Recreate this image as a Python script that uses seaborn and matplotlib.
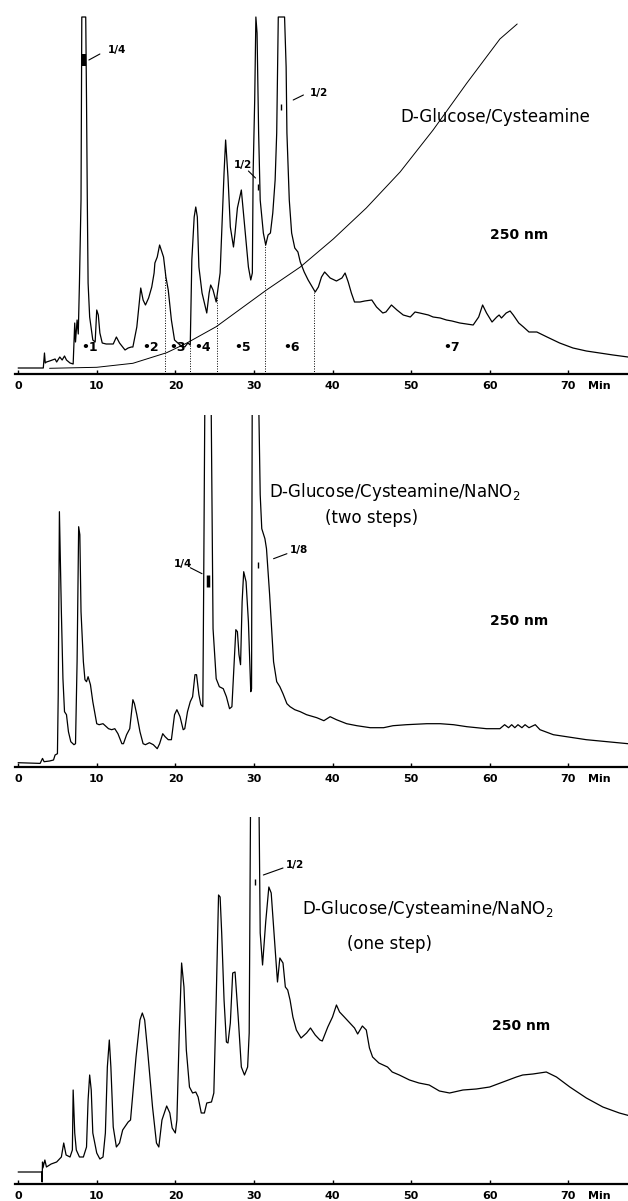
import numpy as np
import matplotlib
matplotlib.use("Agg")
import matplotlib.pyplot as plt
import seaborn as sns

sns.set_style("white")
plt.rcParams['font.family'] = ['DejaVu Sans']
plt.rcParams['text.color'] = 'black'
plt.rcParams['xtick.color'] = 'black'
plt.rcParams['xtick.labelcolor'] = 'black'

# ---------------- data (time in min, detector signal in arbitrary units) ----------------
# Panel 1: D-Glucose/Cysteamine
t1 = [0, 3.2, 3.35, 3.45, 3.6, 4.0, 4.7, 4.9, 5.3, 5.6, 5.9, 6.15, 6.6, 7.0, 7.1, 7.2, 7.3, 7.5, 7.65,
      7.8, 8.0, 8.1, 8.6, 8.7, 8.8, 8.9, 9.1, 9.5, 9.8, 10.0, 10.2, 10.4, 10.7, 11.2, 12.1, 12.5, 12.9,
      13.6, 14.0, 14.4, 14.6, 15.1, 15.6, 15.9, 16.2, 16.6, 17.0, 17.3, 17.4, 17.7, 18.0, 18.5, 18.8,
      19.1, 19.5, 19.9, 20.6, 21.2, 21.6, 21.9, 22.1, 22.4, 22.6, 22.8, 23.0, 23.4, 24.0, 24.3, 24.5,
      24.8, 25.2, 25.7, 25.9, 26.2, 26.4, 26.7, 27.0, 27.4, 27.6, 27.9, 28.2, 28.4, 28.6, 29.0, 29.3,
      29.6, 29.8, 29.9, 30.1, 30.25, 30.4, 30.6, 30.8, 31.2, 31.5, 31.8, 32.1, 32.4, 32.7, 32.9, 33.1,
      33.9, 34.1, 34.2, 34.5, 34.8, 35.2, 35.6, 35.9, 36.4, 36.9, 37.5, 37.8, 38.2, 38.6, 39.0, 39.7,
      40.5, 41.2, 41.6, 42.0, 42.4, 42.8, 43.5, 44.1, 45.0, 45.6, 46.4, 46.8, 47.5, 48.2, 49.0, 49.9,
      50.5, 51.1, 52.2, 52.8, 53.7, 54.5, 55.2, 56.2, 57.1, 57.9, 58.6, 59.1, 59.6, 60.3, 60.9, 61.2,
      61.5, 62.1, 62.6, 63.0, 63.7, 64.3, 65.0, 66.0, 67.3, 68.9, 70.6, 72.3, 74.0, 75.7, 77.6]
s1 = [6, 6, 21, 11, 12, 13, 15, 12, 17, 14, 18, 14, 11, 10, 30, 51, 32, 54, 40,
      91, 174, 357, 357, 274, 174, 91, 57, 34, 32, 64, 59, 41, 31, 30, 30, 37, 31,
      24, 26, 27, 27, 47, 86, 74, 69, 76, 87, 101, 111, 117, 129, 117, 97,
      84, 54, 34, 29, 27, 31, 29, 114, 157, 167, 157, 107, 81, 61, 81, 89,
      84, 72, 101, 141, 201, 234, 197, 147, 127, 141, 166, 177, 184, 167, 134, 107,
      94, 101, 201, 274, 357, 341, 241, 174, 141, 129, 139, 141, 161, 194, 241, 357,
      357, 307, 241, 174, 141, 126, 122, 112, 102, 94, 86, 82, 87, 97, 102, 96,
      93, 96, 101, 92, 81, 72, 72, 73, 74, 67, 61, 62, 69, 64, 59, 57,
      62, 61, 59, 57, 56, 54, 53, 51, 50, 49, 57, 69, 61, 52, 57, 59,
      56, 61, 63, 59, 51, 47, 42, 42, 37, 31, 26, 23, 21, 19, 17]

# Panel 1: elution gradient curve
grad_t = [4.0, 10.0, 14.6, 18.9, 21.4, 25.2, 31.6, 35.9, 40.1, 44.3, 48.6, 52.8, 57.1, 61.3, 63.5]
grad_s = [5.7, 6.7, 10.7, 21.3, 30.7, 47.3, 84, 107, 135, 166, 202, 244, 291, 335, 350]

# Panel 1: fraction cut positions and fraction labels
cuts = [18.7, 21.9, 25.3, 31.4, 37.7]
frac_pos = [9.1, 16.9, 20.3, 23.5, 28.6, 34.8, 55.1]
frac_lab = ['•1', '•2', '•3', '•4', '•5', '•6', '•7']

# Panel 2: D-Glucose/Cysteamine/NaNO2 (two steps)
t2 = [0, 2.8, 3.1, 3.3, 4.0, 4.5, 4.7, 5.0, 5.1, 5.25, 5.5, 5.7, 5.9, 6.15, 6.4, 6.7, 7.1, 7.3,
      7.5, 7.7, 7.85, 8.0, 8.3, 8.5, 8.7, 8.9, 9.2, 9.5, 10.0, 10.3, 10.8, 11.5, 11.9, 12.3, 12.7,
      13.2, 13.4, 13.8, 14.2, 14.6, 14.8, 15.1, 15.5, 15.9, 16.2, 16.7, 17.2, 17.7, 18.0, 18.4,
      18.7, 19.1, 19.5, 19.9, 20.2, 20.6, 21.0, 21.2, 21.55, 21.9, 22.2, 22.5, 22.7, 23.0, 23.25,
      23.5, 23.6, 23.8, 24.5, 24.8, 25.2, 25.6, 26.1, 26.5, 26.9, 27.2, 27.5, 27.7, 27.9, 28.1,
      28.3, 28.5, 28.7, 29.0, 29.3, 29.6, 29.7, 29.8, 30.5, 30.8, 31.0, 31.4, 31.6, 32.0, 32.5,
      32.9, 33.3, 33.7, 34.2, 34.6, 35.2, 35.9, 36.7, 38.0, 38.9, 39.7, 40.5, 41.8, 43.1, 44.8,
      46.5, 47.7, 49.4, 52.0, 53.7, 55.4, 57.1, 59.6, 61.3, 61.9, 62.4, 62.8, 63.2, 63.6, 64.1,
      64.5, 65.0, 65.8, 66.4, 68.1, 69.8, 72.3, 74.9, 77.6]
s2 = [4, 3.3, 8.3, 5, 5.7, 6.7, 11.7, 13, 72, 255, 155, 88, 55, 52, 35, 25, 22, 23,
      105, 240, 232, 155, 105, 87, 85, 90, 82, 65, 43, 42, 43, 38, 37, 38, 33,
      23, 23, 32, 38, 67, 63, 52, 35, 23, 22, 24, 22, 18, 23, 33,
      30, 27, 27, 52, 57, 50, 37, 38, 55, 65, 70, 92, 92, 72, 62,
      60, 172, 420, 420, 138, 88, 80, 78, 70, 58, 60, 105, 137, 135, 112,
      102, 165, 195, 185, 145, 75, 78, 420, 420, 272, 238, 228, 218, 172, 105,
      85, 80, 73, 63, 60, 57, 55, 52, 49, 46, 50, 47, 43, 41, 39,
      39, 41, 42, 43, 43, 42, 40, 38, 38, 42, 39, 42, 39, 42, 39,
      42, 39, 42, 37, 32, 30, 27, 25, 23]

# Panel 3: D-Glucose/Cysteamine/NaNO2 (one step)
t3 = [0, 3.0, 3.05, 3.1, 3.15, 3.4, 3.6, 4.2, 4.9, 5.5, 5.8, 6.1, 6.6, 6.9, 7.0, 7.2, 7.4, 7.8,
      8.3, 8.7, 8.9, 9.1, 9.3, 9.5, 10.0, 10.4, 10.8, 11.1, 11.35, 11.6, 11.8, 12.1, 12.5, 12.9,
      13.3, 14.0, 14.3, 14.6, 15.0, 15.5, 15.8, 16.1, 16.5, 17.1, 17.6, 17.9, 18.3, 18.9, 19.3,
      19.6, 20.0, 20.2, 20.5, 20.8, 21.1, 21.4, 21.8, 22.2, 22.6, 22.9, 23.3, 23.7, 24.0, 24.6,
      24.9, 25.2, 25.5, 25.7, 25.9, 26.2, 26.5, 26.7, 27.0, 27.3, 27.6, 28.0, 28.4, 28.8, 29.2,
      29.4, 29.6, 30.6, 30.8, 31.1, 31.5, 31.9, 32.2, 32.5, 32.8, 33.0, 33.3, 33.7, 34.0, 34.3,
      34.6, 34.96, 35.4, 36.0, 36.7, 37.2, 37.8, 38.4, 38.7, 39.4, 40.0, 40.5, 40.9, 41.5, 42.2,
      42.8, 43.2, 43.8, 44.3, 44.7, 45.1, 45.9, 47.0, 47.6, 48.5, 49.8, 51.0, 52.3, 53.6, 54.9,
      56.6, 58.3, 60.0, 61.7, 63.4, 64.2, 65.5, 67.2, 68.5, 70.2, 72.3, 74.4, 76.5, 77.9]
s3 = [12, 12, 2, 22, 16, 24, 17, 20, 22, 27, 41, 29, 27, 34, 94, 51, 34, 27,
      27, 37, 84, 109, 94, 51, 31, 25, 27, 51, 117, 144, 117, 57, 37, 41,
      54, 62, 64, 91, 127, 164, 171, 164, 131, 77, 41, 37, 64, 78, 71,
      56, 51, 64, 151, 221, 197, 134, 97, 91, 92, 87, 71, 71, 81, 82,
      91, 184, 289, 287, 251, 184, 142, 141, 161, 211, 212, 167, 117, 109, 117,
      151, 420, 420, 251, 219, 262, 297, 291, 257, 224, 202, 226, 221, 197, 194,
      184, 167, 154, 146, 151, 156, 149, 144, 143, 157, 167, 179, 172, 167, 161,
      156, 150, 158, 154, 136, 127, 121, 117, 112, 109, 104, 101, 99, 93, 91,
      94, 95, 97, 102, 107, 109, 110, 112, 107, 97, 86, 77, 71, 68]

tick_vals = [0, 10, 20, 30, 40, 50, 60, 70]
tick_labels = ['0', '10', '20', '30', '40', '50', '60', '70']

# ---------------- layout ----------------
W, H = 628, 1201
fig = plt.figure(figsize=(W / 100, H / 100), dpi=100)
XL, XR = -0.4, 77.6
left_px = 15.0

# (axis baseline px, y-limit top in data units == px height)
panels = [(374.0, 358.5), (766.7, 351.7), (1184.0, 367.0)]
axes = []
for base, ytop in panels:
    ax = fig.add_axes([left_px / W, 1 - base / H, (W - left_px) / W, ytop / H])
    ax.set_xlim(XL, XR)
    ax.set_ylim(0, ytop)
    axes.append(ax)


def style_axis(ax):
    for sp in ['top', 'left', 'right']:
        ax.spines[sp].set_visible(False)
    ax.spines['bottom'].set_linewidth(1.6)
    ax.spines['bottom'].set_color('black')
    ax.set_yticks([])
    ax.set_xticks(tick_vals)
    ax.set_xticklabels(tick_labels, fontsize=8, fontweight='bold')
    ax.set_xticks([73.9], minor=True)
    ax.set_xticklabels(['Min'], minor=True, fontsize=8, fontweight='bold')
    ax.tick_params(axis='x', which='major', direction='in', length=3, width=1, pad=5, bottom=True)
    ax.tick_params(axis='x', which='minor', length=0, pad=5, bottom=True)
    ax.set_xlabel('')
    ax.set_ylabel('')
    ax.patch.set_alpha(0)


def mark(ax, t, h, half=5, lw=2.5):
    ax.plot([t, t], [h - half, h + half], color='black', lw=lw, solid_capstyle='butt')


def note(ax, text, text_xy, line_from, line_to):
    ax.text(text_xy[0], text_xy[1], text, fontsize=7.5, fontweight='bold', ha='left', va='center')
    ax.plot([line_from[0], line_to[0]], [line_from[1], line_to[1]], color='black', lw=0.8)


# ---- panel 1 ----
ax = axes[0]
sns.lineplot(x=t1, y=s1, ax=ax, color='black', lw=0.9, estimator=None, sort=False, legend=False)
sns.lineplot(x=grad_t, y=grad_s, ax=ax, color='black', lw=0.7, estimator=None, sort=False, legend=False)
ax.vlines(cuts, 0, np.interp(cuts, t1, s1), colors='black', linestyles=(0, (1, 1.6)), lw=0.7)
for p, lab in zip(frac_pos, frac_lab):
    ax.text(p, 26, lab, ha='center', va='center', fontsize=9, fontweight='bold')
ax.text(48.6, 257, 'D-Glucose/Cysteamine', fontsize=12, ha='left', va='center')
ax.text(60.0, 139, '250 nm', fontsize=10, fontweight='bold', ha='left', va='center')
mark(ax, 8.4, 314, half=6, lw=3)
mark(ax, 30.5, 187, half=3, lw=1)
mark(ax, 33.4, 267, half=3, lw=1)
note(ax, '1/4', (11.4, 324), (10.4, 320), (9.0, 314))
note(ax, '1/2', (37.1, 281), (36.3, 279), (35.0, 274))
note(ax, '1/2', (27.4, 209), (29.3, 203), (30.2, 196))
style_axis(ax)

# ---- panel 2 ----
ax = axes[1]
sns.lineplot(x=t2, y=s2, ax=ax, color='black', lw=0.9, estimator=None, sort=False, legend=False)
ax.text(31.9, 275, 'D-Glucose/Cysteamine/NaNO$_2$', fontsize=12, ha='left', va='center')
ax.text(45.0, 249, '(two steps)', fontsize=12, ha='center', va='center')
ax.text(60.0, 146, '250 nm', fontsize=10, fontweight='bold', ha='left', va='center')
mark(ax, 24.2, 186, half=6, lw=2.5)
mark(ax, 30.5, 202, half=3, lw=1)
note(ax, '1/4', (19.8, 203), (21.9, 199), (23.4, 193))
note(ax, '1/8', (34.6, 217), (34.2, 213), (32.5, 208))
style_axis(ax)

# ---- panel 3 ----
ax = axes[2]
sns.lineplot(x=t3, y=s3, ax=ax, color='black', lw=0.9, estimator=None, sort=False, legend=False)
ax.text(36.1, 275, 'D-Glucose/Cysteamine/NaNO$_2$', fontsize=12, ha='left', va='center')
ax.text(47.3, 240, '(one step)', fontsize=12, ha='center', va='center')
ax.text(60.3, 158, '250 nm', fontsize=10, fontweight='bold', ha='left', va='center')
mark(ax, 30.2, 302, half=3, lw=1)
note(ax, '1/2', (34.1, 319), (33.7, 316), (31.2, 309))
style_axis(ax)

fig.savefig('out.png', dpi=100)
